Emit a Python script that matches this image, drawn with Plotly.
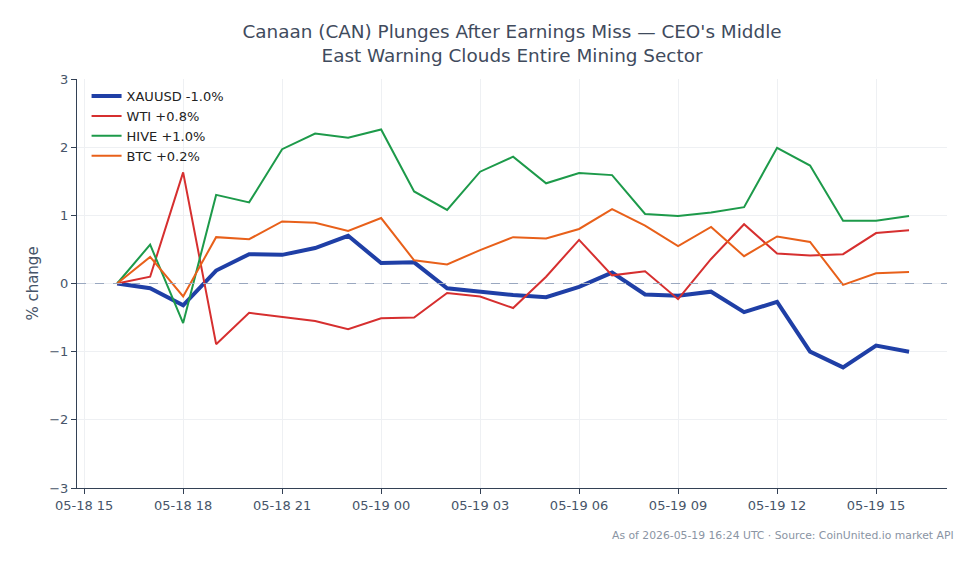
import pandas as pd
import plotly.graph_objects as go

times = pd.date_range("2026-05-18 16:00", "2026-05-19 16:00", freq="h")

xauusd = [0, -0.07, -0.32, 0.19, 0.43, 0.42, 0.52, 0.70, 0.30, 0.31, -0.07, -0.12, -0.17, -0.20,
          -0.05, 0.16, -0.16, -0.18, -0.12, -0.42, -0.27, -1.00, -1.23, -0.91, -1.00]
wti = [0, 0.10, 1.63, -0.89, -0.43, -0.49, -0.55, -0.67, -0.51, -0.50, -0.14, -0.19, -0.36, 0.10,
       0.64, 0.12, 0.18, -0.23, 0.36, 0.87, 0.44, 0.41, 0.43, 0.74, 0.78]
hive = [0, 0.57, -0.58, 1.30, 1.19, 1.97, 2.20, 2.14, 2.26, 1.35, 1.08, 1.64, 1.86, 1.47,
        1.62, 1.59, 1.02, 0.99, 1.04, 1.12, 1.99, 1.73, 0.92, 0.92, 0.99]
btc = [0, 0.39, -0.19, 0.68, 0.65, 0.91, 0.89, 0.77, 0.96, 0.34, 0.28, 0.49, 0.68, 0.66,
       0.80, 1.09, 0.85, 0.55, 0.83, 0.40, 0.69, 0.61, -0.02, 0.15, 0.17]

series = [
    ("XAUUSD -1.0%", xauusd, "#1f3fa6", 4),
    ("WTI +0.8%", wti, "#d62f2f", 2),
    ("HIVE +1.0%", hive, "#1d9a4a", 2),
    ("BTC +0.2%", btc, "#e8601a", 2),
]

title_text = "Canaan (CAN) Plunges After Earnings Miss — CEO's Middle<br>East Warning Clouds Entire Mining Sector"
footer_text = "As of 2026-05-19 16:24 UTC · Source: CoinUnited.io market API"

fig = go.Figure()
for name, vals, color, w in series:
    fig.add_trace(go.Scatter(x=times, y=vals, mode="lines", name=name,
                             line=dict(color=color, width=w)))

fig.add_hline(y=0, line=dict(color="#9aa8c0", width=1, dash="dash"))

fig.update_layout(
    width=979, height=564,
    paper_bgcolor="white", plot_bgcolor="white",
    font=dict(family="DejaVu Sans", color="#475569", size=13),
    margin=dict(l=77, r=32, t=79, b=76),
    title=dict(text=title_text, x=0.5, xref="paper", xanchor="center",
               y=0.932, yref="container", yanchor="top",
               font=dict(size=18.4, color="#3f4b5d")),
    legend=dict(x=0.011, y=0.995, xanchor="left", yanchor="top",
                bgcolor="rgba(255,255,255,0)", font=dict(size=13, color="#222")),
    showlegend=True,
)
fig.update_xaxes(
    range=[pd.Timestamp("2026-05-18 14:47"), pd.Timestamp("2026-05-19 17:09")],
    tickformat="%m-%d %H", dtick=3 * 3600 * 1000,
    tick0=pd.Timestamp("2026-05-18 00:00"),
    showgrid=True, gridcolor="#eef0f3", showline=True, linecolor="#334155",
    ticks="outside", ticklen=5, tickcolor="#334155",
    tickfont=dict(size=13, color="#475569"),
)
fig.update_yaxes(
    range=[-3, 3], dtick=1, title=dict(text="% change", font=dict(size=15), standoff=6),
    showgrid=True, gridcolor="#eef0f3", zeroline=False, showline=True, linecolor="#334155",
    ticks="outside", ticklen=5, tickcolor="#334155",
    tickfont=dict(size=13, color="#475569"),
)
fig.add_annotation(text=footer_text, xref="paper", yref="paper", x=1.0103, y=-0.115,
                   xanchor="right", yanchor="middle", showarrow=False,
                   font=dict(size=10.8, color="#8a94a3"))

fig.write_html("out.html")
